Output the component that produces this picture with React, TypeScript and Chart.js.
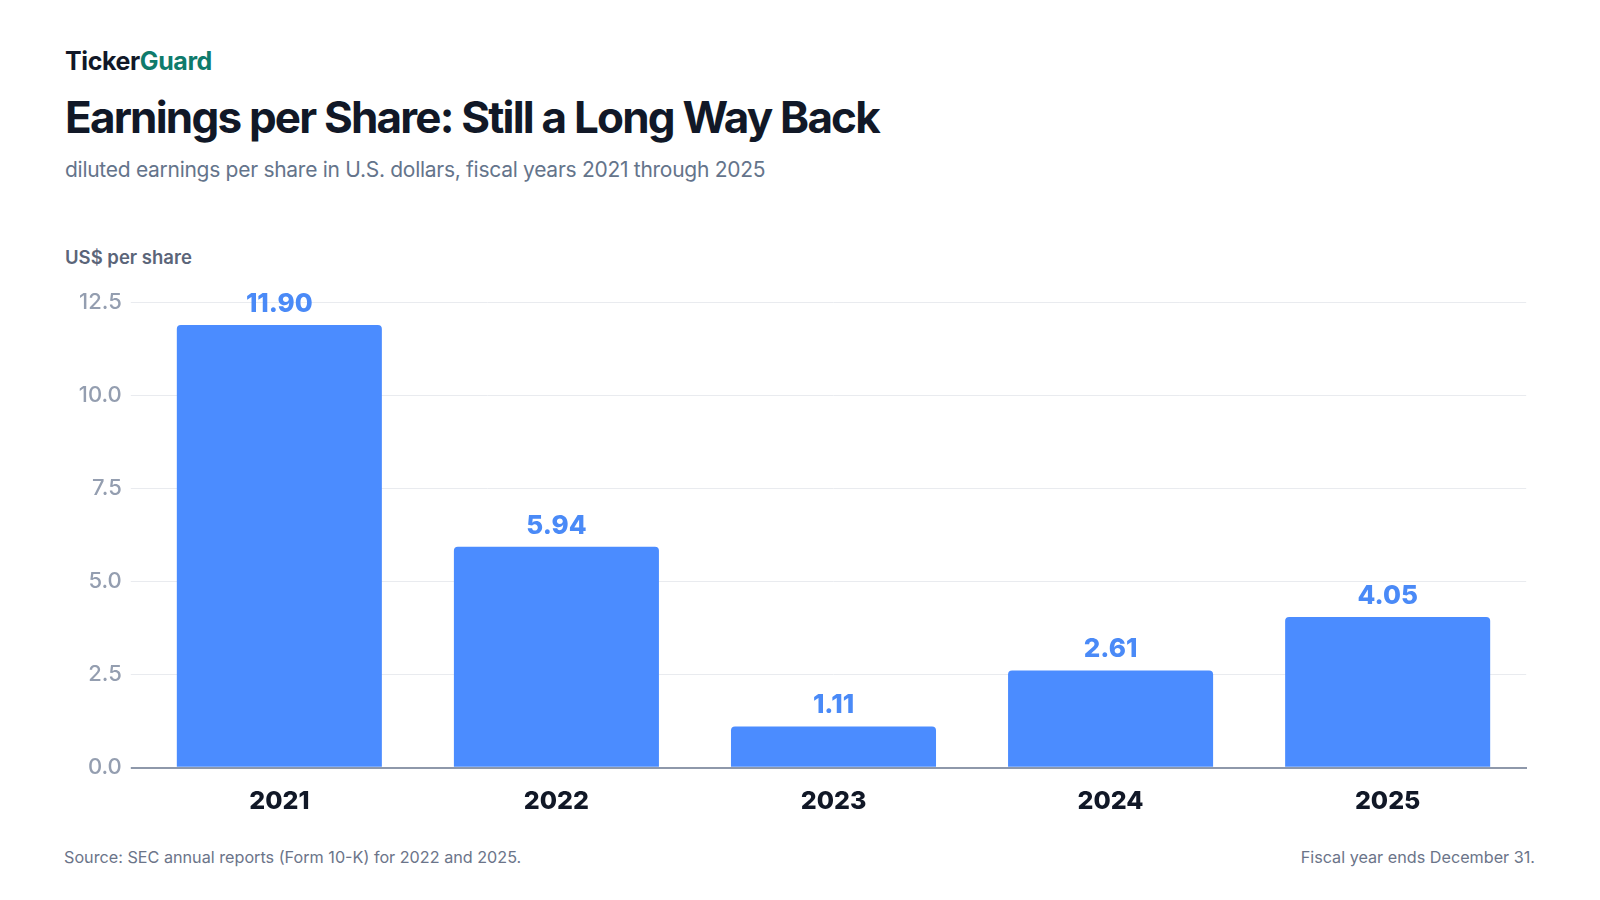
import React, { useEffect, useRef } from "react";
import { Chart, registerables } from "chart.js";

Chart.register(...registerables);

const categories = ["2021", "2022", "2023", "2024", "2025"];
const epsValues = [11.9, 5.94, 1.11, 2.61, 4.05];
const yTicks = [0, 2.5, 5, 7.5, 10, 12.5];

const BAR_COLOR = "#4b8cff";
const LABEL_COLOR = "#4a8af7";
const GRID_COLOR = "#e9ebef";
const AXIS_COLOR = "#8e98aa";
const TICK_COLOR = "#949eb0";
const FONT = "Inter, 'Noto Sans', sans-serif";

const valueLabelPlugin = {
  id: "valueLabels",
  afterDatasetsDraw(chart: any) {
    const { ctx } = chart;
    const meta = chart.getDatasetMeta(0);
    ctx.save();
    ctx.font = `800 26px ${FONT}`;
    ctx.fillStyle = LABEL_COLOR;
    ctx.textAlign = "center";
    ctx.textBaseline = "middle";
    meta.data.forEach((bar: any, i: number) => {
      const v = chart.data.datasets[0].data[i] as number;
      ctx.fillText(v.toFixed(2), bar.x, bar.y - 21);
    });
    ctx.restore();
  },
};

function EpsChart() {
  const ref = useRef<HTMLCanvasElement | null>(null);
  useEffect(() => {
    if (!ref.current) return;
    const chart = new Chart(ref.current, {
      type: "bar",
      data: {
        labels: categories,
        datasets: [
          {
            data: epsValues,
            backgroundColor: BAR_COLOR,
            borderRadius: 4,
            borderSkipped: "start",
            barPercentage: 0.74,
            categoryPercentage: 1,
          },
        ],
      },
      options: {
        animation: false,
        responsive: false,
        maintainAspectRatio: false,
        devicePixelRatio: 1,
        layout: { padding: { top: 42.7, right: 73.8, left: 0, bottom: 0 } },
        plugins: {
          legend: { display: false },
          tooltip: { enabled: false },
          title: { display: false },
        },
        scales: {
          x: {
            z: 1,
            grid: { display: false, drawTicks: false },
            border: { display: true, color: AXIS_COLOR, width: 2 },
            ticks: {
              color: "#111827",
              font: { family: FONT, size: 25, weight: "800" },
              padding: 19,
            },
            afterFit(scale: any) {
              scale.height = 72.3;
            },
          },
          y: {
            min: 0,
            max: 12.5,
            afterBuildTicks(scale: any) {
              scale.ticks = yTicks.map((v) => ({ value: v }));
            },
            grid: {
              color: (c: any) => (c.tick && c.tick.value === 0 ? AXIS_COLOR : GRID_COLOR),
              lineWidth: (c: any) => (c.tick && c.tick.value === 0 ? 2 : 1),
              drawTicks: true,
              tickLength: 10,
            },
            border: { display: false },
            ticks: {
              color: TICK_COLOR,
              font: { family: FONT, size: 22, weight: "500" },
              padding: 9,
              callback: (v: any) => Number(v).toFixed(1),
            },
            afterFit(scale: any) {
              scale.width = 140.8;
            },
          },
        },
      },
      plugins: [valueLabelPlugin],
    });
    return () => chart.destroy();
  }, []);
  return (
    <canvas
      ref={ref}
      width={1600}
      height={580}
      style={{ position: "absolute", left: 0, top: 260, width: 1600, height: 580 }}
    />
  );
}

export default function App() {
  const base: React.CSSProperties = {
    position: "absolute",
    fontFamily: FONT,
    lineHeight: 1,
    whiteSpace: "nowrap",
    margin: 0,
  };
  return (
    <div
      style={{
        position: "absolute",
        left: 0,
        top: 0,
        width: 1600,
        height: 900,
        background: "#ffffff",
        overflow: "hidden",
      }}
    >
      <div style={{ ...base, left: 65, top: 49.4, fontSize: 25, fontWeight: 700, color: "#111827", letterSpacing: -0.4 }}>
        Ticker<span style={{ color: "#0f7b6c" }}>Guard</span>
      </div>
      <div style={{ ...base, left: 65, top: 94.7, fontSize: 44, fontWeight: 700, color: "#111827", letterSpacing: -1.8 }}>
        Earnings per Share: Still a Long Way Back
      </div>
      <div style={{ ...base, left: 65, top: 158.6, fontSize: 21, fontWeight: 400, color: "#64748b", letterSpacing: -0.28 }}>
        diluted earnings per share in U.S. dollars, fiscal years 2021 through 2025
      </div>
      <div style={{ ...base, left: 65, top: 248.4, fontSize: 18.5, fontWeight: 600, color: "#5b6579" }}>
        US$ per share
      </div>
      <EpsChart />
      <div style={{ ...base, left: 64, top: 849.4, fontSize: 16.2, fontWeight: 400, color: "#6b7489" }}>
        Source: SEC annual reports (Form 10-K) for 2022 and 2025.
      </div>
      <div style={{ ...base, right: 65, top: 849.4, fontSize: 16.2, fontWeight: 400, color: "#6b7489" }}>
        Fiscal year ends December 31.
      </div>
    </div>
  );
}
